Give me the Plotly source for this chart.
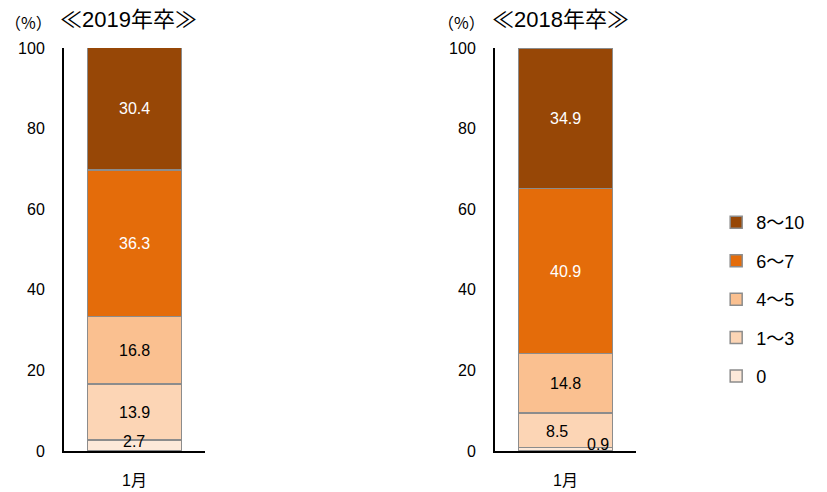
import plotly.graph_objects as go

categories = ["1月"]
series_names = ["0", "1～3", "4～5", "6～7", "8～10"]
values_2019 = [2.7, 13.9, 16.8, 36.3, 30.4]
values_2018 = [0.9, 8.5, 14.8, 40.9, 34.9]
colors = ["#FDE9D9", "#FCD5B5", "#FAC090", "#E46C0A", "#974706"]
text_colors = ["black", "black", "black", "white", "white"]
panel_titles = ["≪2019年卒≫", "≪2018年卒≫"]
y_ticks = [0, 20, 40, 60, 80, 100]

FONT = "Liberation Sans, Noto Sans CJK JP, sans-serif"
CJK = "Noto Sans CJK JP, sans-serif"

fig = go.Figure()
panels = [("x", "y", values_2019), ("x2", "y2", values_2018)]
for pi, (xa, ya, vals) in enumerate(panels):
    for i, (name, v) in enumerate(zip(series_names, vals)):
        fig.add_trace(go.Bar(
            x=categories, y=[v], name=name, xaxis=xa, yaxis=ya,
            marker=dict(color=colors[i], line=dict(color="#8C8C8C", width=1.5)),
            width=0.667, showlegend=(pi == 0), legendgroup=name,
            legendrank=len(series_names) - i,
            hoverinfo="skip",
        ))

# segment labels
label_shifts = {
    (0, 0): (-1, 4),
    (1, 0): (32, 5),
    (1, 1): (-9, -1),
}
for pi, (xa, ya, vals) in enumerate(panels):
    base = 0
    for i, v in enumerate(vals):
        xs, ys = label_shifts.get((pi, i), (0, 0))
        fig.add_annotation(
            x=categories[0], y=base + v / 2, xref=xa, yref=ya,
            text=f"{v:.1f}", showarrow=False, xshift=xs, yshift=ys,
            font=dict(family=FONT, size=16, color=text_colors[i]),
        )
        base += v

# panel titles
for pi, (title, xpos) in enumerate(zip(panel_titles, [0.0, 0.523])):
    fig.add_annotation(x=xpos + 0.004, y=0.955, xref="paper", yref="paper",
                       text="（%）", showarrow=False, xanchor="left", yanchor="middle",
                       font=dict(family=CJK, size=16, color="black"))
    fig.add_annotation(x=xpos + 0.070, y=0.960, xref="paper", yref="paper",
                       text=title, showarrow=False, xanchor="left", yanchor="middle",
                       font=dict(family=FONT, size=22, color="black"))

axis_common_x = dict(showline=True, linecolor="black", linewidth=2, showgrid=False,
                     zeroline=False, ticks="", range=[-0.5, 0.5],
                     tickfont=dict(family=FONT, size=16, color="black"),
                     ticklabelstandoff=14, fixedrange=True)
axis_common_y = dict(showline=True, linecolor="black", linewidth=2, showgrid=False,
                     zeroline=False, ticks="", range=[0, 100], tickvals=y_ticks,
                     tickfont=dict(family=FONT, size=16, color="black"),
                     ticklabelstandoff=14, fixedrange=True)

y_dom = [41 / 492, 444 / 492]
fig.update_layout(
    width=827, height=492,
    barmode="stack",
    paper_bgcolor="white", plot_bgcolor="white",
    margin=dict(l=0, r=0, t=0, b=0, autoexpand=False),
    font=dict(family=FONT, color="black"),
    xaxis=dict(domain=[64 / 827, 205 / 827], anchor="y", **axis_common_x),
    yaxis=dict(domain=y_dom, anchor="x", **axis_common_y),
    xaxis2=dict(domain=[495 / 827, 636 / 827], anchor="y2", **axis_common_x),
    yaxis2=dict(domain=y_dom, anchor="x2", **axis_common_y),
    legend=dict(x=0.866, y=0.392, xanchor="left", yanchor="middle",
                traceorder="grouped", tracegroupgap=12,
                font=dict(family=FONT, size=18, color="black"),
                bgcolor="rgba(0,0,0,0)"),
    showlegend=True,
)

fig.write_html("out.html", config={"displayModeBar": False},
               post_script="document.body.style.margin='0';")
